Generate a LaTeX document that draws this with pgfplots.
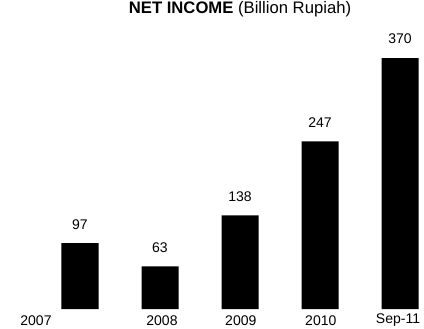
\documentclass[border=0pt]{standalone}
\usepackage{pgfplots}
\pgfplotsset{compat=1.18}
\usepackage{fontspec}
\setmainfont{Liberation Sans}

\begin{document}
\begin{tikzpicture}
\begin{axis}[
    at={(0pt,0pt)}, anchor=south west,
    scale only axis,
    width=318pt, height=231.75pt,
    xmin=-1, xmax=4.3,
    ymin=0, ymax=455.5,
    axis line style={draw=none},
    ybar,
    bar width=27.75pt,
    ymajorticks=false,
    % 2007 sits left of its bar, as in the source
    xtick={-0.55,1.025,2.01,3.01,3.975},
    xticklabels={2007,2008,2009,2010,Sep-11},
    major tick length=0pt,
    x tick label style={font=\fontsize{10.5}{12}\selectfont, anchor=center, yshift=-8.5pt},
    nodes near coords,
    /pgf/number format/assume math mode=true,
    every node near coord/.append style={font=\fontsize{10.5}{12}\selectfont, yshift=7pt},
    clip=false
]
\addplot[fill=black, draw=none] coordinates {(0,97) (1,63) (2,138) (3,247) (4,370)};
\end{axis}
\node[anchor=base, font=\fontsize{12.5}{14}\selectfont] at (180pt,221.5pt)
    {\textbf{NET INCOME} (Billion Rupiah)};
\pgfresetboundingbox
\useasboundingbox (0pt,-14.25pt) rectangle (318pt,231.75pt);
\end{tikzpicture}
\end{document}
